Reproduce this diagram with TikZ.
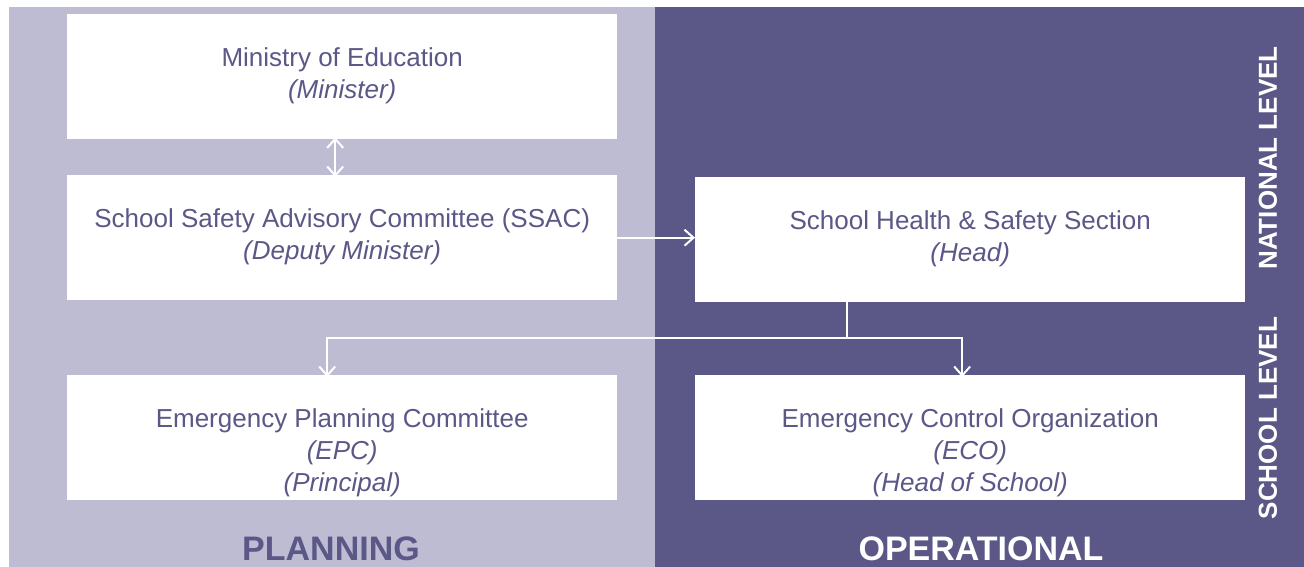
\documentclass[tikz,border=0pt]{standalone}
\usepackage{fontspec}
\setmainfont{Liberation Sans}
\usetikzlibrary{positioning,arrows.meta}
\definecolor{planlight}{HTML}{BEBCD3}
\definecolor{opdark}{HTML}{5B5887}
\tikzset{
  unit/.style={fill=white,minimum width=550pt,minimum height=125pt,inner sep=0pt,anchor=north west},
  unittext/.style={anchor=north,align=center,text=opdark,inner sep=0pt,font=\fontsize{26}{32}\selectfont},
  barb/.tip={Straight Barb[length=9pt,width=16pt,line width=2pt]},
  link/.style={white,line width=2pt,-barb},
  side/.style={white,rotate=90,font=\fontsize{26}{30}\selectfont\bfseries},
  phase/.style={anchor=base,font=\fontsize{34}{40}\selectfont\bfseries},
}
\begin{document}
\begin{tikzpicture}[x=1pt,y=-1pt]
\useasboundingbox (0,0) rectangle (1304,567);
\fill[planlight](9,7)rectangle(655,567);
\fill[opdark](655,7)rectangle(1304,567);
% units
\node[unit](moe)at(67,14){};
\node[unit](ssac)at(67,175){};
\node[unit](shs)at(695,177){};
\node[unit](epc)at(67,375){};
\node[unit](eco)at(695,375){};
\node[unittext,below=33pt of moe.north](moe-t){Ministry of Education\\\textit{(Minister)}};
\node[unittext,below=33pt of ssac.north](ssac-t){School Safety Advisory Committee (SSAC)\\\textit{(Deputy Minister)}};
\node[unittext,below=33pt of shs.north](shs-t){School Health \& Safety Section\\\textit{(Head)}};
\node[unittext,below=33pt of epc.north](epc-t){Emergency Planning Committee\\\textit{(EPC)}\\\textit{(Principal)}};
\node[unittext,below=33pt of eco.north](eco-t){Emergency Control Organization\\\textit{(ECO)}\\\textit{(Head of School)}};
% links
\draw[link,barb-barb]([xshift=-7pt,yshift=2pt]moe.south)--([xshift=-7pt,yshift=-2pt]ssac.north);
\draw[link](ssac.east)--(ssac.east-|shs.west);
\draw[white,line width=2pt]([xshift=-123pt]shs.south)--++(0,36)coordinate(fork);
\draw[link](fork)-|([xshift=-15pt,yshift=-2pt]epc.north);
\draw[link](fork)-|([xshift=-8pt,yshift=-2pt]eco.north);
% labels
\node[side](natl)at(1268,158){NATIONAL LEVEL};
\node[side](schl)at(1268,418){SCHOOL LEVEL};
\node[phase,text=opdark](plan)at(331,560){PLANNING};
\node[phase,text=white](oper)at(981,560){OPERATIONAL};
\end{tikzpicture}
\end{document}
